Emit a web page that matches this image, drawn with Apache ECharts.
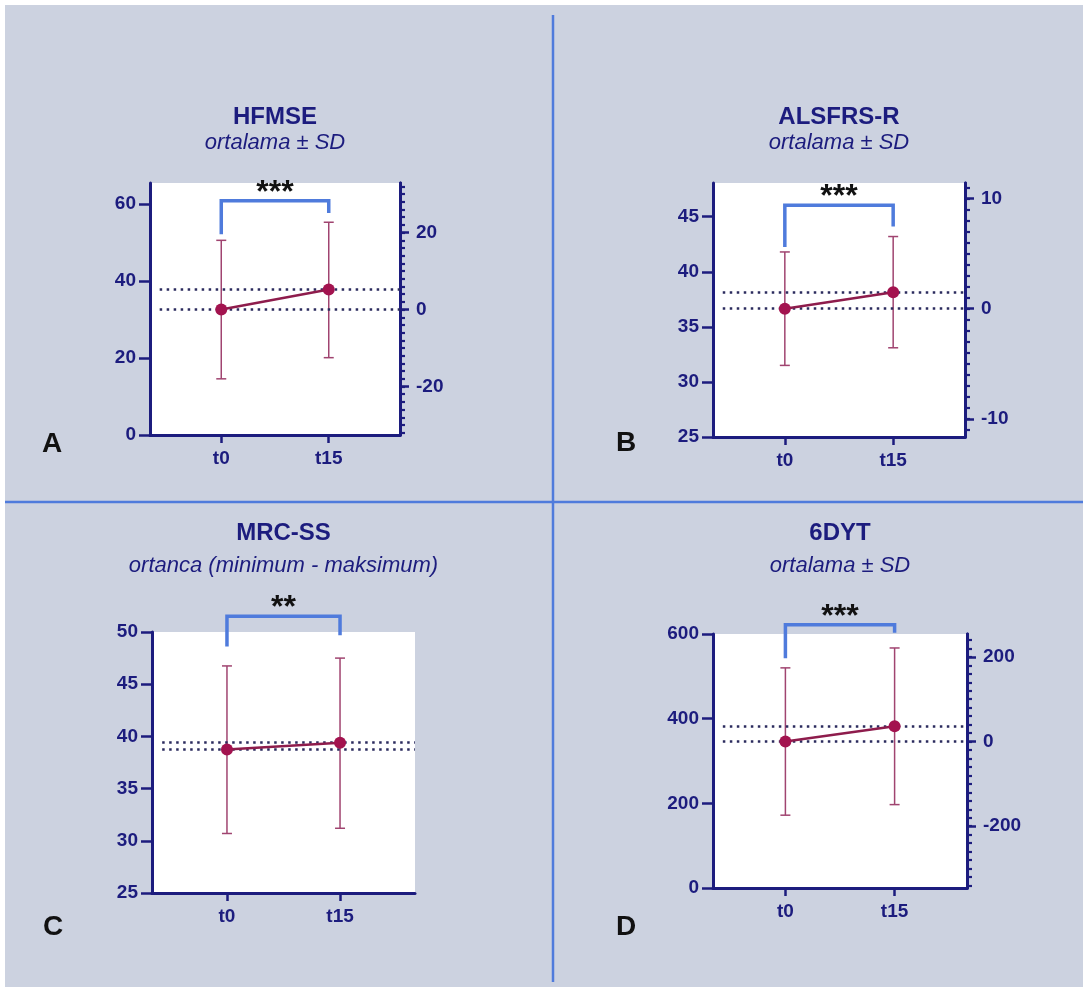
<!DOCTYPE html>
<html>
<head>
<meta charset="utf-8">
<title>HFMSE / ALSFRS-R / MRC-SS / 6DYT</title>
<script src="https://cdn.jsdelivr.net/npm/echarts@6/dist/echarts.min.js"></script>
<style>
  html, body { margin: 0; padding: 0; background: #fff; }
  #chart {
    position: absolute; left: 0; top: 0; width: 1086px; height: 990px;
    background: #ccd2e0;
    box-shadow: inset 5px 5px 0 #fff, inset -3px -3px 0 #fff;
  }
</style>
</head>
<body>
<div id="chart"></div>
<script>
// zaman noktalari
const categories = ['t0', 't15']

// A - HFMSE (ortalama ± SD)
const hfmseMean = [32.6, 37.8]
const hfmseLow = [14.6, 20.1]
const hfmseHigh = [50.6, 55.3]
const hfmseTicks = [0, 20, 40, 60]
const hfmseRightTicks = [-20, 0, 20]
const hfmseBracket = [52.2, 57.7, 60.9] // sol bacak, sag bacak, ust

// B - ALSFRS-R (ortalama ± SD)
const alsMean = [36.65, 38.15]
const alsLow = [31.5, 33.1]
const alsHigh = [41.8, 43.2]
const alsTicks = [25, 30, 35, 40, 45]
const alsRightTicks = [-10, 0, 10]
const alsBracket = [42.25, 44.1, 46.05]

// C - MRC-SS (ortanca, minimum - maksimum)
const mrcMedian = [38.75, 39.4]
const mrcMin = [30.7, 31.2]
const mrcMax = [46.75, 47.5]
const mrcTicks = [25, 30, 35, 40, 45, 50]
const mrcBracket = [48.6, 49.7, 51.5]

// D - 6DYT (ortalama ± SD)
const dytMean = [346, 382]
const dytLow = [172, 197]
const dytHigh = [520, 567]
const dytTicks = [0, 200, 400, 600]
const dytRightTicks = [-200, 0, 200]
const dytBracket = [543, 603, 622]

const FONT = "'Liberation Sans', Arial, Helvetica, sans-serif"
const NAVY = '#1c1c7e'
const WINE = '#a3134f'
const BLUE = '#4f7bdc'
const X_MIN = -0.663
const X_MAX = 1.663

const panels = [
  {
    letter: 'A', title: 'HFMSE', sub: 'ortalama ± SD', titleY: 117, subY: 143, letterPos: [52, 444],
    grid: { left: 150, top: 183, width: 250, height: 252 }, yMin: 0, yMax: 65.5,
    ticks: hfmseTicks, rightTicks: hfmseRightTicks, minorStep: 2,
    center: hfmseMean, low: hfmseLow, high: hfmseHigh, bracket: hfmseBracket, stars: '***'
  },
  {
    letter: 'B', title: 'ALSFRS-R', sub: 'ortalama ± SD', titleY: 117, subY: 143, letterPos: [626, 443],
    grid: { left: 713, top: 183, width: 252, height: 254 }, yMin: 25, yMax: 48.06,
    ticks: alsTicks, rightTicks: alsRightTicks, minorStep: 1,
    center: alsMean, low: alsLow, high: alsHigh, bracket: alsBracket, stars: '***'
  },
  {
    letter: 'C', title: 'MRC-SS', sub: 'ortanca (minimum - maksimum)', titleY: 533, subY: 566, letterPos: [53, 927],
    grid: { left: 152, top: 632, width: 263, height: 261 }, yMin: 25, yMax: 50,
    ticks: mrcTicks, rightTicks: null, minorStep: 0,
    center: mrcMedian, low: mrcMin, high: mrcMax, bracket: mrcBracket, stars: '**'
  },
  {
    letter: 'D', title: '6DYT', sub: 'ortalama ± SD', titleY: 533, subY: 566, letterPos: [626, 927],
    grid: { left: 713, top: 634, width: 254, height: 254 }, yMin: 0, yMax: 600,
    ticks: dytTicks, rightTicks: dytRightTicks, minorStep: 20,
    center: dytMean, low: dytLow, high: dytHigh, bracket: dytBracket, stars: '***'
  }
]

const axisLine = { show: true, onZero: false, lineStyle: { color: NAVY, width: 3 } }
const labelStyle = { color: NAVY, fontFamily: FONT, fontWeight: 'bold', fontSize: 19 }

const grids = []
const xAxes = []
const yAxes = []
const series = []
const graphics = []

panels.forEach((p, gi) => {
  grids.push(Object.assign({ show: true, backgroundColor: '#fff', borderWidth: 0 }, p.grid))

  xAxes.push({
    type: 'value', gridIndex: gi, min: X_MIN, max: X_MAX,
    axisLine: axisLine,
    splitLine: { show: false },
    axisTick: { show: true, length: 8, customValues: [0, 1], lineStyle: { color: NAVY, width: 2.5 } },
    axisLabel: Object.assign({ customValues: [0, 1], margin: 14, formatter: v => categories[Math.round(v)] }, labelStyle)
  })

  const leftIndex = yAxes.length
  yAxes.push({
    type: 'value', gridIndex: gi, position: 'left', min: p.yMin, max: p.yMax,
    axisLine: axisLine,
    splitLine: { show: false },
    axisTick: { show: true, length: 11, customValues: p.ticks, lineStyle: { color: NAVY, width: 2.5 } },
    axisLabel: Object.assign({ customValues: p.ticks, margin: 14 }, labelStyle)
  })

  if (p.rightTicks) {
    // sag eksen: t0 degerine gore fark
    const rMin = p.yMin - p.center[0]
    const rMax = p.yMax - p.center[0]
    const minor = []
    for (let v = Math.ceil(rMin / p.minorStep) * p.minorStep; v <= rMax; v += p.minorStep) minor.push(v)
    yAxes.push({
      type: 'value', gridIndex: gi, position: 'right', min: rMin, max: rMax,
      axisLine: axisLine,
      splitLine: { show: false },
      axisTick: { show: true, length: 5, customValues: minor, lineStyle: { color: NAVY, width: 2.2 } },
      axisLabel: { show: false }
    })
    yAxes.push({
      type: 'value', gridIndex: gi, position: 'right', min: rMin, max: rMax,
      axisLine: axisLine,
      splitLine: { show: false },
      axisTick: { show: true, length: 9, customValues: p.rightTicks, lineStyle: { color: NAVY, width: 2.5 } },
      axisLabel: Object.assign({ customValues: p.rightTicks, margin: 16 }, labelStyle)
    })
  }

  // hata cubuklari
  series.push({
    type: 'custom', xAxisIndex: gi, yAxisIndex: leftIndex, clip: false, silent: true, z: 3,
    data: categories.map((c, i) => [i, p.low[i], p.high[i]]),
    encode: { x: 0, y: [1, 2] },
    renderItem: (params, api) => {
      const lo = api.coord([api.value(0), api.value(1)])
      const hi = api.coord([api.value(0), api.value(2)])
      const cap = 5
      const st = { stroke: '#a04470', lineWidth: 1.5 }
      return {
        type: 'group',
        children: [
          { type: 'line', shape: { x1: lo[0], y1: lo[1], x2: hi[0], y2: hi[1] }, style: st },
          { type: 'line', shape: { x1: lo[0] - cap, y1: lo[1], x2: lo[0] + cap, y2: lo[1] }, style: st },
          { type: 'line', shape: { x1: hi[0] - cap, y1: hi[1], x2: hi[0] + cap, y2: hi[1] }, style: st }
        ]
      }
    }
  })

  // ortalama / ortanca cizgisi
  series.push({
    type: 'line', xAxisIndex: gi, yAxisIndex: leftIndex, z: 5,
    data: categories.map((c, i) => [i, p.center[i]]),
    symbol: 'circle', symbolSize: 12,
    itemStyle: { color: WINE },
    lineStyle: { color: '#8e1c4c', width: 2.5 },
    animation: false,
    markLine: {
      silent: true, symbol: 'none', animation: false, label: { show: false },
      lineStyle: { color: '#2b2b5e', width: 2.5, type: [2.5, 4.5] },
      data: p.center.map(v => [{ coord: [X_MIN + 0.09, v] }, { coord: [X_MAX, v] }])
    }
  })

  // anlamlilik koseli parantezi
  series.push({
    type: 'custom', xAxisIndex: gi, yAxisIndex: leftIndex, clip: false, silent: true, z: 6,
    data: [[0, 1, p.bracket[0], p.bracket[1], p.bracket[2]]],
    renderItem: (params, api) => {
      const a = api.coord([api.value(0), api.value(2)])
      const b = api.coord([api.value(1), api.value(3)])
      const top = api.coord([0, api.value(4)])[1]
      return {
        type: 'group',
        children: [
          {
            type: 'polyline',
            shape: { points: [[a[0], a[1]], [a[0], top], [b[0], top], [b[0], b[1]]] },
            style: { stroke: BLUE, lineWidth: 3.5, fill: null }
          },
          {
            type: 'text',
            style: {
              text: p.stars, x: (a[0] + b[0]) / 2, y: top - 8,
              align: 'center', verticalAlign: 'middle',
              font: 'bold 32px ' + FONT, fill: '#111'
            }
          }
        ]
      }
    }
  })

  const cx = p.grid.left + p.grid.width / 2
  graphics.push(
    { type: 'text', x: cx, y: p.titleY, style: { text: p.title, align: 'center', verticalAlign: 'middle', font: 'bold 24px ' + FONT, fill: NAVY } },
    { type: 'text', x: cx, y: p.subY, style: { text: p.sub, align: 'center', verticalAlign: 'middle', font: 'italic 22px ' + FONT, fill: NAVY } },
    { type: 'text', x: p.letterPos[0], y: p.letterPos[1], style: { text: p.letter, align: 'center', verticalAlign: 'middle', font: 'bold 28px ' + FONT, fill: '#111' } }
  )
})

// panel ayiricilar
graphics.push(
  { type: 'line', shape: { x1: 553, y1: 15, x2: 553, y2: 982 }, style: { stroke: BLUE, lineWidth: 2.5 } },
  { type: 'line', shape: { x1: 5, y1: 502, x2: 1083, y2: 502 }, style: { stroke: BLUE, lineWidth: 2.5 } }
)

const chart = echarts.init(document.getElementById('chart'))
chart.setOption({
  animation: false,
  backgroundColor: 'transparent',
  grid: grids,
  xAxis: xAxes,
  yAxis: yAxes,
  series: series,
  graphic: graphics
})

window.addEventListener('resize', () => chart.resize())
</script>
</body>
</html>
